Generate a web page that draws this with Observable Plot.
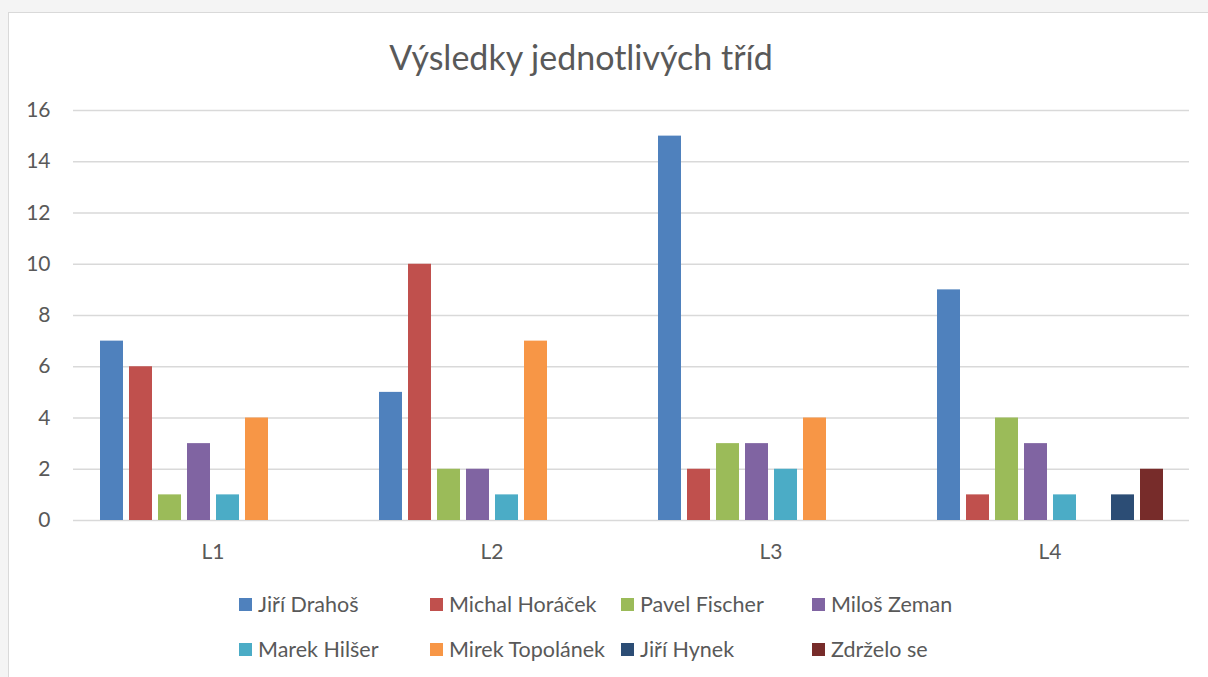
<!DOCTYPE html>
<html>
<head>
<meta charset="utf-8">
<script src="https://cdn.jsdelivr.net/npm/d3@7"></script>
<script src="https://cdn.jsdelivr.net/npm/@observablehq/plot@0.6"></script>
<style>
  html, body { margin: 0; padding: 0; }
  body { width: 1208px; height: 677px; overflow: hidden; background: #f4f4f4; font-family: Lato, "Open Sans", sans-serif; color: #595959; }
  #page { position: relative; width: 1208px; height: 677px; overflow: hidden; }
  #frame { position: absolute; left: 8px; top: 12px; width: 1220px; height: 700px; background: #fff; border: 1px solid #d9d9d9; box-sizing: border-box; }
  #title { position: absolute; left: 0; top: 40px; width: 1162px; text-align: center; font-size: 34px; line-height: 34px; color: #595959; }
  #chart { position: absolute; left: 0; top: 90px; }
  #legend { position: absolute; left: 239px; top: 594px; display: grid; grid-template-columns: repeat(4, 191px); grid-auto-rows: 45px; }
  .item { display: flex; align-items: center; height: 20px; font-size: 21.5px; line-height: 20px; white-space: nowrap; }
  .sw { width: 13px; height: 13px; margin-right: 6px; flex: none; }
</style>
</head>
<body>
<div id="page">
  <div id="frame"></div>
  <div id="title">Výsledky jednotlivých tříd</div>
  <div id="chart"></div>
  <div id="legend"></div>
</div>
<script>
const classes = ["L1", "L2", "L3", "L4"];
const candidates = ["Jiří Drahoš", "Michal Horáček", "Pavel Fischer", "Miloš Zeman", "Marek Hilšer", "Mirek Topolánek", "Jiří Hynek", "Zdrželo se"];
const drahos    = [7, 5, 15, 9];
const horacek   = [6, 10, 2, 1];
const fischer   = [1, 2, 3, 4];
const zeman     = [3, 2, 3, 3];
const hilser    = [1, 1, 2, 1];
const topolanek = [4, 7, 4, 0];
const hynek     = [0, 0, 0, 1];
const zdrzelo   = [0, 0, 0, 2];
const colors = ["#4F81BD", "#C0504D", "#9BBB59", "#8064A2", "#4BACC6", "#F79646", "#2C4D75", "#772C2A"];
const yTicks = [0, 2, 4, 6, 8, 10, 12, 14, 16];

const series = [drahos, horacek, fischer, zeman, hilser, topolanek, hynek, zdrzelo];
const data = candidates.flatMap((c, i) => classes.map((k, j) => ({candidate: c, cls: k, votes: series[i][j]})))
  .filter(d => d.votes > 0);

const chart = Plot.plot({
  width: 1208,
  height: 490,
  marginLeft: 73,
  marginRight: 19,
  marginTop: 20,
  marginBottom: 60,
  style: {background: "transparent", fontFamily: "Lato, 'Open Sans', sans-serif", fontSize: "21px", color: "#595959", overflow: "visible"},
  facet: {data, x: "cls", label: null, marginLeft: 73, marginRight: 19, marginTop: 20, marginBottom: 60},
  fx: {domain: classes, padding: 0, label: null, tickSize: 0, tickPadding: 24, axis: "bottom"},
  x: {domain: candidates, paddingInner: 0.215, paddingOuter: 0.82, axis: null},
  y: {domain: [0, 16], ticks: 8, tickSize: 0, tickPadding: 23, label: null},
  color: {domain: candidates, range: colors},
  marks: [
    Plot.ruleY(yTicks, {stroke: "#d9d9d9", strokeWidth: 1.3}),
    Plot.barY(data, {x: "candidate", y: "votes", fill: "candidate"})
  ]
});
document.getElementById("chart").appendChild(chart);

const legend = document.getElementById("legend");
candidates.forEach((c, i) => {
  const item = document.createElement("div");
  item.className = "item";
  const sw = document.createElement("span");
  sw.className = "sw";
  sw.style.background = colors[i];
  const t = document.createElement("span");
  t.textContent = c;
  item.appendChild(sw);
  item.appendChild(t);
  legend.appendChild(item);
});
</script>
</body>
</html>
